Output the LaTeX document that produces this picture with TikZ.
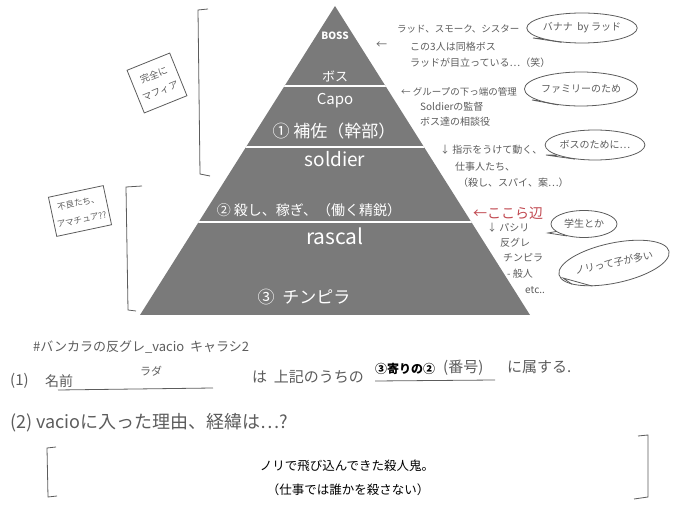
\documentclass[tikz,border=0pt]{standalone}
\usepackage{fontspec}
\setmainfont{Noto Sans CJK JP}
\usetikzlibrary{shapes.geometric}
\definecolor{pyr}{HTML}{7A7A7A}
\definecolor{ink}{HTML}{5C5C5C}
\definecolor{redink}{HTML}{C0474F}
\begin{document}
\begin{tikzpicture}[x=1pt,y=-1pt,
  wt/.style={text=white,font=\fontsize{#1}{#1}\selectfont,inner sep=0pt},
  note/.style={text=ink,font=\fontsize{#1}{#1}\selectfont,inner sep=0pt,anchor=west},
  bub/.style={draw=ink,line width=0.8pt,ellipse,inner sep=0pt,text=ink,font=\fontsize{10}{10}\selectfont},
  tag/.style={draw=ink,line width=0.8pt,text=ink,align=center,inner sep=2pt,font=\fontsize{#1}{17}\selectfont},
  pen/.style={draw=ink,line width=0.8pt},
  sep/.style={draw=white,line width=2pt}]
\useasboundingbox (0,0) rectangle (680,510);
% pyramid
\coordinate (apex) at (335,6);
\coordinate (bl) at (140,315);
\coordinate (br) at (530,315);
\fill[pyr] (apex) -- (bl) -- (br) -- cycle;
\begin{scope}
\clip (apex) -- (bl) -- (br) -- cycle;
\coordinate (s1l) at (140,86); \coordinate (s1r) at (530,86);
\coordinate (s2l) at (140,147); \coordinate (s2r) at (530,147);
\coordinate (s3l) at (140,222); \coordinate (s3r) at (530,222);
\draw[sep] (s1l) -- (s1r);
\draw[sep] (s2l) -- (s2r);
\draw[sep] (s3l) -- (s3r);
\end{scope}
\node[wt=10,font=\fontsize{10}{10}\selectfont\bfseries] (boss) at (335,36) {BOSS};
\node[wt=13] (bosu) at (335,76) {ボス};
\node[wt=15] (capo) at (335,101) {Capo};
\node[wt=17] (hosa) at (334,131) {① 補佐（幹部）};
\node[wt=19] (soldier) at (335,159) {soldier};
\node[wt=14] (koroshi) at (309,210) {② 殺し、稼ぎ、（働く精鋭）};
\node[wt=21] (rascal) at (335,236) {rascal};
\node[wt=17] (chinpira) at (304,297) {③ \ チンピラ};
% left brackets and tags
\coordinate (k1a) at (208,9); \coordinate (k1b) at (198,10);
\coordinate (k1c) at (200,174); \coordinate (k1d) at (210,176);
\draw[pen] (k1a) -- (k1b) -- (k1c) -- (k1d);
\coordinate (k2a) at (142,186); \coordinate (k2b) at (126,187);
\coordinate (k2c) at (128,310); \coordinate (k2d) at (136,311);
\draw[pen] (k2a) -- (k2b) -- (k2c) -- (k2d);
\node[tag=9.5,rotate=22,minimum width=46,minimum height=46] (mafia) at (157,83) {完全に\\マフィア};
\node[tag=8.5,rotate=12,minimum width=56,minimum height=40] (amateur) at (80,211) {不良たち、\\アマチュア??};
% right notes
\node[note=9.5] (n1a) at (397,29) {ラッド、スモーク、シスター};
\node[note=11] (ar1) at (376,45) {←};
\node[note=10] (n1b) at (410,47) {この3人は同格ボス};
\node[note=10] (n1c) at (410,63) {ラッドが目立っている…（笑）};
\node[note=9.5] (n2a) at (401,92) {← グループの下っ端の管理};
\node[note=10] (n2b) at (420,107) {Soldierの監督};
\node[note=10] (n2c) at (420,122) {ボス達の相談役};
\node[note=10] (n3a) at (440,150) {↓ 指示をうけて動く、};
\node[note=10] (n3b) at (455,167) {仕事人たち、};
\node[note=10] (n3c) at (458,183) {（殺し、スパイ、案…）};
\node[note=14,text=redink] (here) at (473,213) {←ここら辺};
\node[note=10] (n4a) at (487,228) {↓ パシリ};
\node[note=10] (n4b) at (500,243) {反グレ};
\node[note=10] (n4c) at (503,258) {チンピラ};
\node[note=10] (n4d) at (507,274) {- 般人};
\node[note=10] (n4e) at (525,290) {etc..};
% bubbles
\node[bub,minimum width=94,minimum height=30] (b1) at (582,28) {バナナ \ by ラッド};
\coordinate (t1) at (533,38);
\draw[pen] (b1.195) -- (t1) -- (b1.215);
\node[bub,minimum width=92,minimum height=34] (b2) at (581,89) {ファミリーのため};
\coordinate (t2) at (532,100);
\draw[pen] (b2.195) -- (t2) -- (b2.215);
\node[bub,minimum width=92,minimum height=30] (b3) at (595,145) {ボスのために…};
\coordinate (t3) at (546,155);
\draw[pen] (b3.195) -- (t3) -- (b3.215);
\node[bub,minimum width=66,minimum height=27] (b4) at (584,224) {学生とか};
\coordinate (t4) at (548,233);
\draw[pen] (b4.195) -- (t4) -- (b4.215);
\node[bub,rotate=12,minimum width=98,minimum height=40] (b5) at (614,263) {ノリって子が多い};
\coordinate (t5) at (563,278);
\draw[pen] (b5.195) -- (t5) -- (b5.215);
% bottom form
\node[note=13] (title) at (33,347) {\#バンカラの反グレ\_vacio \ キャラシ2};
\node[note=15] (q1) at (10,381) {(1)};
\node[note=14] (name) at (45,381) {名前};
\node[note=11] (rada) at (140,371) {ラダ};
\coordinate (u1a) at (58,390); \coordinate (u1b) at (213,388);
\draw[pen] (u1a) -- (u1b);
\node[note=15] (wa) at (252,377) {は \ 上記のうちの};
\node[note=12,text=black] (num) at (375,369) {\bfseries ③寄りの②};
\node[note=15] (bango) at (443,368) {(番号)};
\coordinate (u2a) at (375,381); \coordinate (u2b) at (495,380);
\draw[pen] (u2a) -- (u2b);
\node[note=15] (zoku) at (507,367) {に属する.};
\node[note=18] (q2) at (10,423) {(2) vacioに入った理由、経緯は…?};
\coordinate (k3a) at (56,447); \coordinate (k3b) at (47,448);
\coordinate (k3c) at (48,497); \coordinate (k3d) at (57,496);
\draw[pen] (k3a) -- (k3b) -- (k3c) -- (k3d);
\coordinate (k4a) at (638,436); \coordinate (k4b) at (648,435);
\coordinate (k4c) at (648,497); \coordinate (k4d) at (634,499);
\draw[pen] (k4a) -- (k4b) -- (k4c) -- (k4d);
\node[text=black,inner sep=0pt,font=\fontsize{12.5}{12.5}\selectfont] (ans1) at (347,466) {ノリで飛び込んできた殺人鬼。};
\node[text=black,inner sep=0pt,font=\fontsize{12.5}{12.5}\selectfont] (ans2) at (348,490) {（仕事では誰かを殺さない）};
\end{tikzpicture}
\end{document}
